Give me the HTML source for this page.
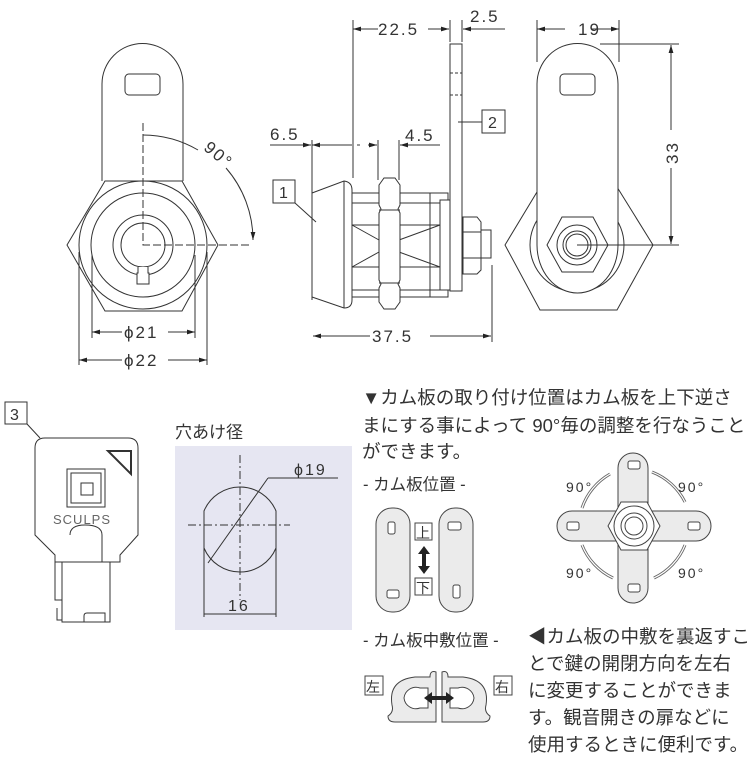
<!DOCTYPE html>
<html><head><meta charset="utf-8"><style>
html,body{margin:0;padding:0;background:#fff;}
svg{display:block;}
text{font-family:"Liberation Sans","Noto Sans CJK JP",sans-serif;fill:#333;}
.jp{font-family:"Noto Sans CJK JP",sans-serif;}
.d{letter-spacing:2px;}
</style></head><body>
<svg width="750" height="767" viewBox="0 0 750 767" xmlns="http://www.w3.org/2000/svg">
<defs>
<marker id="a" viewBox="0 0 10 6" refX="10" refY="3" markerWidth="8" markerHeight="5" orient="auto-start-reverse"><path d="M0,0L10,3L0,6z" fill="#222"/></marker>
</defs>
<g fill="none" stroke="#333" stroke-width="1">
<path d="M102,181 L102,84 A40.5,40.5 0 0 1 183,84 L183,181" fill="#fff"/>
<rect x="125" y="74" width="35" height="21" rx="4"/>
<polygon points="105,181 182,181 218,245 182,311 105,311 67,245" fill="#fff"/>
<circle cx="143" cy="245" r="64"/>
<circle cx="143" cy="245" r="52"/>
<circle cx="143" cy="245" r="30"/>
<circle cx="143" cy="245" r="22"/>
<path d="M138,267 v6 h-1 v11 h12 v-11 h-1 v-6" fill="#fff"/>
<path d="M143,123 V245 H250" stroke-dasharray="8,3"/>
<path d="M143,135 A110,110 0 0 1 198,150"/>
<path d="M226,168 A110,110 0 0 1 253,240" marker-end="url(#a)"/>
<path d="M79,252 V365 M207,252 V365 M92,255 V338 M195,255 V338"/>
<path d="M122,332 H92" marker-end="url(#a)"/><path d="M168,332 H195" marker-end="url(#a)"/>
<path d="M122,360 H79" marker-end="url(#a)"/><path d="M168,360 H207" marker-end="url(#a)"/>
<rect x="450" y="44" width="12" height="247" fill="#fff"/>
<path d="M450,73 H462 M450,95 H462" stroke-dasharray="3,2"/>
<path d="M352,193 H448 V297 H352 M352,203 H448 M352,225 H440 M352,267 H440 M352,290 H440 M352,225 L379,240 M352,267 L379,252 M399,240 L440,225 M399,252 L440,267 M430,193 V297"/>
<rect x="440" y="200" width="10" height="90" fill="#fff"/>
<path d="M384,178 H395 L400,185 V205 L398,209 L400,213 V280 L398,284 L400,288 V302 L395,309 H384 L379,302 V288 L381,284 L379,280 V213 L381,209 L379,205 V185 Z" fill="#fff"/>
<path d="M379,210 H400 M379,283 H400"/>
<path d="M312,193 L344,181 Q352,182 352,190 V300 Q352,308 344,308 L312,297 Z" fill="#fff"/>
<path d="M344,181 V308"/>
<path d="M463,217 H477 L481,222 V270 L477,274 H463 Z M463,232 H481 M463,258 H481" fill="#fff"/>
<rect x="481" y="230" width="10" height="28" fill="#fff"/>
<path d="M353,20 V178 M450,20 V42 M462,20 V42 M312,140 V300 M492,265 V342 M378,140 V180 M399,140 V180"/>
<path d="M378,29 H353" marker-end="url(#a)"/><path d="M428,29 H449" marker-end="url(#a)"/>
<path d="M505,29 H463" marker-end="url(#a)"/>
<path d="M270,145 H311" marker-end="url(#a)"/><path d="M357,145 H360" />
<path d="M368,145 H377" marker-end="url(#a)"/><path d="M440,145 H400" marker-end="url(#a)"/>
<path d="M312,145 H352" marker-start="url(#a)"/>
<path d="M370,336 H313" marker-end="url(#a)"/><path d="M430,336 H491" marker-end="url(#a)"/>
<rect x="273" y="180" width="22" height="23"/><path d="M295,203 L316,222"/>
<rect x="482" y="110" width="23" height="23"/><path d="M458,122 H482"/>
<polygon points="505,245 540,187 617,187 653,245 617,310 540,310" fill="#fff"/>
<circle cx="577" cy="245" r="47" fill="#fff"/>
<path d="M537,245 V84 A40.5,40.5 0 0 1 618,84 V245 A40.5,48 0 0 1 537,245" fill="#fff"/>
<rect x="560" y="74" width="35" height="21" rx="4"/>
<polygon points="562,217 593,217 608,245 593,272 562,272 547,245" fill="#fff"/>
<circle cx="577" cy="245" r="20"/>
<circle cx="577" cy="245" r="14"/>
<circle cx="577" cy="245" r="11"/>
<path d="M577,245 H679 M600,44 H679 M537,20 V62 M619,20 V62"/>
<path d="M565,29 H537" marker-end="url(#a)"/><path d="M592,29 H619" marker-end="url(#a)"/>
<path d="M671,130 V45" marker-end="url(#a)"/><path d="M671,168 V244" marker-end="url(#a)"/>
</g>
<g font-size="17" class="d">
<text x="202" y="159" transform="rotate(40 216 155)">90°</text>
<text x="124" y="338">ϕ21</text>
<text x="124" y="366">ϕ22</text>
<text x="378" y="35">22.5</text>
<text x="470" y="22">2.5</text>
<text x="270" y="140">6.5</text>
<text x="405" y="141">4.5</text>
<text x="372" y="342">37.5</text>
<text x="279" y="198" font-size="16">1</text>
<text x="488" y="128" font-size="16">2</text>
<text x="578" y="35">19</text>
<text x="662" y="150" transform="rotate(-90 677 149)">33</text>
</g>

<g fill="none" stroke="#333" stroke-width="1">
<rect x="5" y="402" width="22" height="22"/><path d="M27,424 L40,438"/>
<path d="M35,448 Q35,438 45,438 H128 Q138,438 138,448 V535 L120,555 V562 H55 V555 L35,535 Z" fill="#fff"/>
<path d="M108,451 H131 V474 Z" stroke-width="2"/>
<rect x="67" y="469" width="38" height="38"/><rect x="71" y="473" width="30" height="30"/>
<rect x="81" y="483" width="12" height="12"/>
<path d="M70,535 Q70,525 85,525 Q102,525 102,535 V562"/>
<rect x="62" y="562" width="48" height="60" fill="#fff"/>
<path d="M55,562 V600 H62 M57,608 V620 H62 M84,622 V616 Q84,613 87,613 H105 V622"/>
</g>
<text x="53" y="524" font-size="13" style="fill:#666;letter-spacing:1px">SCULPS</text>
<text x="10" y="420" font-size="16">3</text>

<text x="175" y="438" font-size="17" class="jp">穴あけ径</text>
<rect x="175" y="446" width="177" height="184" fill="#e6e6f2"/>
<g fill="none" stroke="#333" stroke-width="1">
<path d="M204,511 A39,39 0 0 1 276,511 V548 A39,39 0 0 1 204,548 Z"/>
<path d="M240,455 V600 M188,525 H290" stroke-dasharray="8,3,2,3"/>
<path d="M268,478 L208,563 M268,478 H338"/>
<path d="M204,548 V617 M276,548 V617 M204,614 H276"/>
</g>
<text x="294" y="475" font-size="16" class="d">ϕ19</text>
<text x="228" y="611" font-size="16" class="d">16</text>

<g font-size="18.5" class="jp">
<text x="362" y="404">▼カム板の取り付け位置はカム板を上下逆さ</text>
<text x="362" y="432">まにする事によって 90°毎の調整を行なうこと</text>
<text x="362" y="458">ができます。</text>
<text x="363" y="490" font-size="16.5">- カム板位置 -</text>
<text x="363" y="646" font-size="16.5">- カム板中敷位置 -</text>
<text x="528" y="643">◀カム板の中敷を裏返すこ</text>
<text x="528" y="670">とで鍵の開閉方向を左右</text>
<text x="528" y="697">に変更することができま</text>
<text x="528" y="724">す。観音開きの扉などに</text>
<text x="528" y="751">使用するときに便利です。</text>
</g>

<g fill="#ebebeb" stroke="#444" stroke-width="1">
<rect x="376" y="508" width="34" height="104" rx="16"/>
<rect x="439" y="508" width="34" height="104" rx="16"/>
</g>
<g fill="#fff" stroke="#444" stroke-width="1">
<rect x="388" y="522" width="7" height="12" rx="2"/><rect x="387" y="590" width="12" height="8" rx="2"/>
<rect x="448" y="522" width="13" height="8" rx="2"/><rect x="453" y="585" width="7" height="13" rx="2"/>
<rect x="415" y="523" width="17" height="17"/><rect x="415" y="578" width="17" height="17"/>
</g>
<text x="416" y="538" font-size="14" class="jp">上</text>
<text x="416" y="593" font-size="14" class="jp">下</text>
<path d="M424,546 L418,554 H422 V566 H418 L424,574 L430,566 H426 V554 H430 Z" fill="#222"/>

<g stroke="#444" stroke-width="1" fill="#ebebeb">
<path d="M618,511 V468 A15,15 0 0 1 648,468 V511 H696 A15,15 0 0 1 696,541 H648 V588 A15,15 0 0 1 618,588 V541 H572 A15,15 0 0 1 572,511 Z"/>
</g>
<g stroke="#444" stroke-width="1" fill="#fff">
<polygon points="621,502 647,502 660,526 647,550 621,550 608,526"/>
<circle cx="634" cy="526" r="20"/><circle cx="634" cy="526" r="13"/><circle cx="634" cy="526" r="9"/>
<rect x="628" y="461" width="12" height="8" rx="2"/><rect x="628" y="584" width="12" height="8" rx="2"/>
<rect x="567" y="522" width="12" height="8" rx="2"/><rect x="688" y="522" width="12" height="8" rx="2"/>
</g>
<g fill="none" stroke="#666" stroke-width="3">
<path d="M582,508 A62,62 0 0 1 610,474"/><path d="M652,472 A62,62 0 0 1 685,502"/>
<path d="M582,545 A62,62 0 0 0 613,578"/><path d="M654,578 A62,62 0 0 0 685,545"/>
</g>
<g fill="none" stroke="#fff" stroke-width="1.2">
<path d="M582,508 A62,62 0 0 1 610,474"/><path d="M652,472 A62,62 0 0 1 685,502"/>
<path d="M582,545 A62,62 0 0 0 613,578"/><path d="M654,578 A62,62 0 0 0 685,545"/>
</g>
<g font-size="14" class="d"><text x="566" y="492">90°</text><text x="678" y="492">90°</text><text x="566" y="578">90°</text><text x="678" y="578">90°</text></g>

<g fill="#ebebeb" stroke="#444" stroke-width="1">
<path d="M436,672 V722 H395 Q388,722 388,716 Q394,712 392,705 Q388,680 415,677 H430 Q430,670 436,672 Z"/>
<path d="M442,672 V722 H483 Q490,722 490,716 Q484,712 486,705 Q490,680 463,677 H448 Q448,670 442,672 Z"/>
</g>
<g fill="#fff" stroke="#444" stroke-width="1">
<path d="M404,698 A12,12 0 0 1 420,688 H428 V708 H420 A12,12 0 0 1 404,698 Z"/>
<path d="M474,698 A12,12 0 0 0 458,688 H450 V708 H458 A12,12 0 0 0 474,698 Z"/>
<rect x="365" y="676" width="18" height="19"/><rect x="494" y="676" width="18" height="19"/>
</g>
<path d="M424,698 L432,692 V696 H446 V692 L454,698 L446,704 V700 H432 V704 Z" fill="#222"/>
<text x="366" y="692" font-size="14" class="jp">左</text>
<text x="495" y="692" font-size="14" class="jp">右</text>
</svg>
</body></html>
